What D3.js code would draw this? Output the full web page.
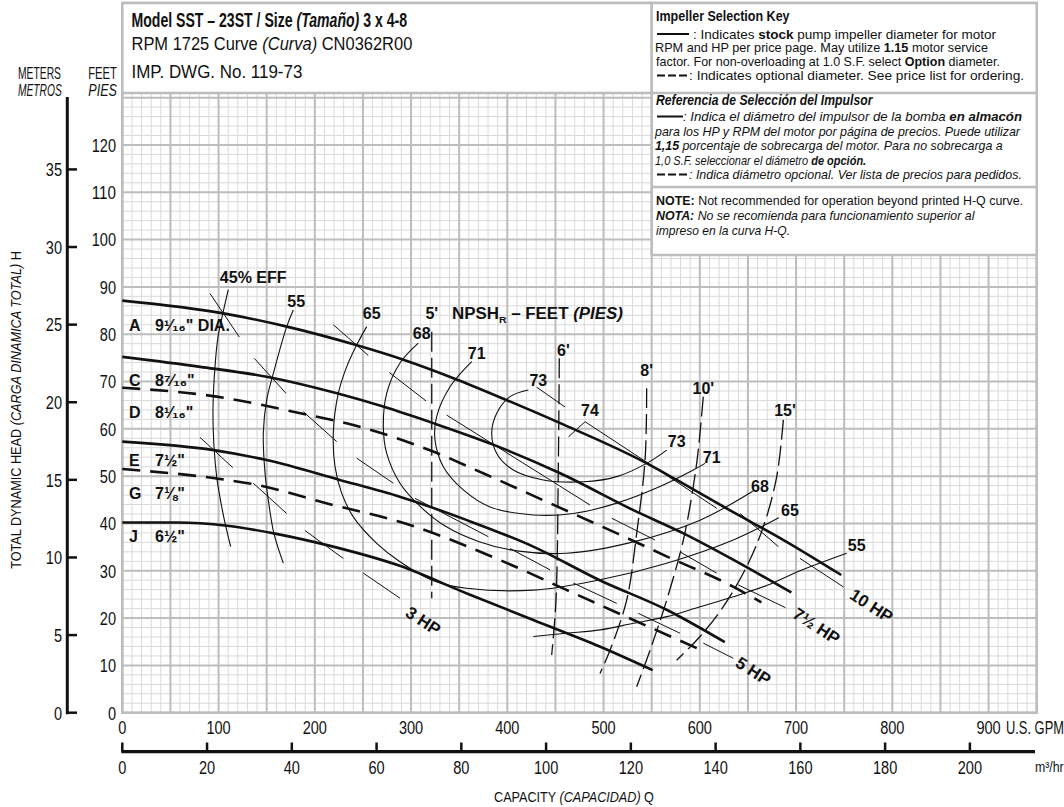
<!DOCTYPE html>
<html><head><meta charset="utf-8">
<script src="https://cdn.jsdelivr.net/npm/d3@7"></script>
<style>
body{margin:0;background:#fff}
text{font-family:'Liberation Sans Narrow','Arial Narrow','Liberation Sans',Arial,sans-serif;white-space:pre;fill:#111}
</style></head>
<body><svg id="c" width="1064" height="807"></svg>
<script>
// ---------------- DATA ----------------
const gpmTicks = [0,100,200,300,400,500,600,700,800,900];
const m3Ticks = [0,20,40,60,80,100,120,140,160,180,200];
const feetTicks = [0,10,20,30,40,50,60,70,80,90,100,110,120];
const meterTicks = [0,5,10,15,20,25,30,35];

// Impeller H-Q curves [GPM, feet]
const impA = [[0,87.1],[105,84.4],[171,81.6],[243,77.7],[292,74.6],[344,70.7],[399,66.1],[455,61.2],[545,52.7],[576,49.2],[631,42.8],[687,36.5],[747,29.1]];
const impC = [[0,75.2],[81,73.1],[150,71.0],[223,67.5],[271,64.7],[323,61.2],[386,56.6],[455,50.6],[531,42.8],[583,37.9],[635,32.3],[695,25.4]];
const impD = [[0,68.7],[98,66.8],[185,63.3],[240,60.8],[323,55.2],[375,50.6],[444,44.3],[514,37.9],[566,33.0],[635,26.6],[664,23.3]];
const impE = [[0,57.3],[95,55.5],[150,53.4],[226,49.2],[289,45.6],[358,40.7],[427,35.1],[496,28.0],[566,21.7],[626,14.9]];
const impG = [[0,51.5],[98,49.5],[136,48.3],[219,43.9],[289,40.3],[392,32.3],[462,25.9],[531,19.6],[603,13.1]];
const impJ = [[0,40.2],[57,40.2],[109,39.5],[160,37.8],[219,35.1],[289,31.0],[358,25.2],[427,19.6],[496,14.0],[551,9.0]];
const impellerLetters = ['A','C','D','E','G','J'];
const impellerSizes = ['9¹⁄₁₆" DIA.','8⁷⁄₁₆"','8¹⁄₁₆"','7½"','7⅛"','6½"'];
const impellerLabelHeads = [81.9,70.3,63.6,53.4,46.4,37.2];
const impellerOptional = [false,false,true,false,true,false];

// Efficiency curves [GPM, feet]
const eff45 = [[110.1,89.4],[104.6,84.5],[99.4,79.4],[96.3,73.1],[94.2,64.0],[95.3,56.2],[98.1,49.8],[101.5,45.5],[106.7,40.1],[112.6,35.1]];
const eff55a = [[177.7,85.1],[170.8,81.6],[156.9,71.7],[150,66.1],[146.5,59.1],[148.3,50.6],[152,44.5],[157.5,37.9],[167.3,31.6]];
const eff55b = [[427.0,16.1],[461.7,16.8],[496.3,17.5],[531.0,18.9],[565.6,20.3],[600.2,22.4],[634.8,24.5],[669.5,26.9],[704.1,30.0],[752.6,33.7]];
const eff65 = [[253.9,81.6],[243.5,77.7],[233.1,73.1],[224.4,67.5],[219.2,59.1],[221.0,52.0],[227.9,46.4],[240.0,41.4],[264.3,35.8],[288.5,31.9],[323.1,27.9],[357.8,26.3],[427.0,25.9],[496.3,28.1],[565.6,31.6],[634.8,36.5],[682,41.2]];
const eff68 = [[307.5,78.1],[288.5,73.9],[274.7,67.5],[271.2,60.5],[274.7,54.8],[288.5,48.5],[310,43.5],[335,39.5],[370,36.2],[410,34.2],[461.7,33.7],[530.9,36.1],[600.2,40.7],[655,46.8]];
const eff71 = [[363.0,74.2],[340.5,68.9],[326.6,62.6],[324.9,57.6],[333.5,52.0],[354.3,47.1],[382.0,43.5],[427.0,41.8],[468.6,42.1],[513.7,44.3],[558.6,47.8],[593.2,51.3],[605.4,52.7]];
const eff73 = [[421.8,68.2],[402.8,66.8],[389.0,63.3],[383.8,59.1],[389.0,54.8],[406.2,51.3],[437.4,49.2],[479.0,48.8],[513.7,49.9],[544.8,52.7],[565.6,55.5]];
const effCurves = [eff45,eff55a,eff55b,eff65,eff68,eff71,eff73];
// efficiency labels: text, GPM, feet
const effLabels = [['45% EFF',136,92.1],['55',180.7,86.9],['65',259.1,84.4],['68',311.1,80.2],['71',368.2,76.0],['73',432.2,70.3],['74',485.9,64.0],['73',576,57.3],['71',612.4,54.1],['68',662.5,47.8],['65',693.7,42.8],['55',763,35.4]];
// short efficiency / leader strokes [GPM1, ft1, GPM2, ft2]
const effTicks = [[91.1,88.6,121.6,79.4],[137.1,74.9,170.1,67.5],[219.2,82.0,255.6,75.5],[277.4,71.9,315.5,65.9],[80.7,58.2,114.7,51.8],[188.1,63.6,222.8,57.3],[136.1,48.5,170.8,42.1],[243.5,53.8,281.6,48.5],[304.1,45.3,380.3,37.2],[189.8,38.5,229.6,32.6],[250.4,29.5,288.5,24.2],[337.0,62.9,485.9,43.9],[402.8,34.7,444.4,30.2],[468.6,27.4,513.7,23.1],[508.5,41.1,553.5,36.5],[579.4,34.0,617.6,29.5],[536.1,21.0,579.4,16.8],[603.6,14.7,634.8,11.5],[641.8,42.1,681.6,35.1],[640,27.0,689,22.2],[704.1,32.6,749.1,26.6],[480.8,61.5,617.6,43.2],[463.5,58.3,480.8,61.5],[430.5,68.8,460,64.6]];

// NPSHr curves [GPM, feet]
const npsh5 = [[321.5,80.5],[321.5,24.2]];
const npsh6 = [[454,74.9],[453,52.0],[450.6,23.8],[446.1,12.2]];
const npsh8 = [[544.8,68.6],[543.1,53.4],[534.4,37.9],[524.0,23.8],[506.7,13.2],[496.3,8.3]];
const npsh10 = [[603.6,66.8],[598.4,55.5],[593.2,47.8],[582.9,36.5],[565.6,23.8],[548.3,13.2],[534.4,5.5]];
const npsh15 = [[686.8,61.9],[679.9,49.9],[666.0,39.3],[648.7,30.9],[624.4,22.4],[600.2,16.1],[576.0,11.1]];
const npshCurves = [npsh5,npsh6,npsh8,npsh10,npsh15];
const npshLabels = [["5'",321.5,84.5],["6'",458.2,76.7],["8'",544.8,72.4],["10'",603.6,68.6],["15'",688.5,64.0]];
const npshTitlePos = [342.6,84.5];
// motor HP labels: text, GPM, feet
const hpLabels = [['3 HP',309.3,19.6],['5 HP',652.2,9.0],['7½ HP',717.9,18.5],['10 HP',775,22.8]];

// ---------------- SCALES ----------------
const svg = d3.select('#c');
svg.append('rect').attr('width',1064).attr('height',807).attr('fill','#fff');
const X0=122.3, X1=1036.7, Y0=712.7, Y1=3;
const x = d3.scaleLinear().domain([0,950]).range([X0,X1]);
const y = d3.scaleLinear().domain([0,150]).range([Y0,Y1]);
const yM = d3.scaleLinear().domain([0,150*0.3048]).range([Y0,Y1]);
const xM = d3.scaleLinear().domain([0,950/4.402868]).range([X0,X1]);

// text helper: parts -> tspans, optional fit width
function txt(parent, px, py, parts, o={}) {
  const size=o.size||13;
  const t = parent.append('text').attr('font-size',size)
    .attr('text-anchor',o.anchor||'start')
    .attr('font-weight',o.weight||'normal').attr('font-style',o.style||'normal');
  parts.forEach(p=>{
    const s = typeof p==='string'?{t:p}:p;
    const ts = t.append('tspan').text(s.t);
    if(s.b) ts.attr('font-weight','bold');
    if(s.i) ts.attr('font-style','italic');
    if(s.sub) ts.attr('font-size',size*0.62).attr('dy',size*0.25);
    if(s.unsub) ts.attr('dy',-size*0.25);
  });
  let sx=1;
  if(o.width){ const w=t.node().getBBox().width; if(w>0) sx=o.width/w; }
  else if(o.sx) sx=o.sx;
  t.attr('transform',`translate(${px},${py}) rotate(${o.rotate||0}) scale(${sx},1)`);
  return t;
}

// ---------------- GRID ----------------
const grid = svg.append('g');
const minorC='#d9d9d9', majorC='#bdbdbd';
d3.range(0,951,10).filter(v=>v%50!==0).forEach(v=>grid.append('line').attr('x1',x(v)).attr('x2',x(v)).attr('y1',y(0)).attr('y2',y(150)).attr('stroke',minorC).attr('stroke-width',1));
d3.range(0,151,2).filter(v=>v%10!==0).forEach(v=>grid.append('line').attr('y1',y(v)).attr('y2',y(v)).attr('x1',x(0)).attr('x2',x(950)).attr('stroke',minorC).attr('stroke-width',1));
d3.range(0,951,50).forEach(v=>grid.append('line').attr('x1',x(v)).attr('x2',x(v)).attr('y1',y(0)).attr('y2',y(150)).attr('stroke',majorC).attr('stroke-width',2));
d3.range(0,151,10).forEach(v=>grid.append('line').attr('y1',y(v)).attr('y2',y(v)).attr('x1',x(0)).attr('x2',x(950)).attr('stroke',majorC).attr('stroke-width',2));
grid.append('rect').attr('x',x(0)).attr('y',y(150)).attr('width',x(950)-x(0)).attr('height',y(0)-y(150)).attr('fill','none').attr('stroke',majorC).attr('stroke-width',2.5);

// ---------------- HEADER BOXES ----------------
const hb = svg.append('g');
hb.append('rect').attr('x',X0).attr('y',Y1).attr('width',651.7-X0).attr('height',93-Y1).attr('fill','#fff').attr('stroke',majorC).attr('stroke-width',2.5);
hb.append('rect').attr('x',651.7).attr('y',Y1).attr('width',X1-651.7).attr('height',255-Y1).attr('fill','#fff').attr('stroke',majorC).attr('stroke-width',2.5);
hb.append('line').attr('x1',651.7).attr('x2',X1).attr('y1',93).attr('y2',93).attr('stroke',majorC).attr('stroke-width',2.5);
hb.append('line').attr('x1',651.7).attr('x2',X1).attr('y1',187).attr('y2',187).attr('stroke',majorC).attr('stroke-width',2.5);

txt(hb,131.5,26.5,[{t:'Model SST – 23ST / Size ',b:1},{t:'(Tamaño)',b:1,i:1},{t:' 3 x 4-8',b:1}],{size:21,width:276});
txt(hb,131.5,50,['RPM 1725 Curve ',{t:'(Curva)',i:1},' CN0362R00'],{size:19,width:281});
txt(hb,131.5,77.5,['IMP. DWG. No. 119-73'],{size:19,width:171});

function keyLine(y0,x1,x2,dashed){
  hb.append('line').attr('x1',x1).attr('x2',x2).attr('y1',y0).attr('y2',y0).attr('stroke','#111').attr('stroke-width',2)
    .attr('stroke-dasharray',dashed?'8,3':null);
}
const KS=12.2;
txt(hb,656,20.5,[{t:'Impeller Selection Key',b:1}],{size:14,width:134});
keyLine(34,657,689,false);
txt(hb,693,38.5,[': Indicates ',{t:'stock',b:1},' pump impeller diameter for motor'],{size:KS,width:303});
txt(hb,655,52,['RPM and HP per price page. May utilize ',{t:'1.15',b:1},' motor service'],{size:KS,width:333});
txt(hb,656,66,['factor. For non-overloading at 1.0 S.F. select ',{t:'Option',b:1},' diameter.'],{size:KS,width:344});
keyLine(75.5,657,689,true);
txt(hb,689,80,[': Indicates optional diameter. See price list for ordering.'],{size:KS,width:335});
txt(hb,656,105,[{t:'Referencia de Selección del Impulsor',b:1,i:1}],{size:14,width:218});
keyLine(116.5,657,683,false);
txt(hb,683,121,[{t:': Indica el diámetro del impulsor de la bomba ',i:1},{t:'en almacón',b:1,i:1}],{size:KS,width:339});
txt(hb,655,135.5,[{t:'para los HP y RPM del motor por página de precios. Puede utilizar',i:1}],{size:KS,width:367});
txt(hb,655,150,[{t:'1,15',b:1,i:1},{t:' porcentaje de sobrecarga del motor. Para no sobrecarga a',i:1}],{size:KS,width:348});
txt(hb,655,164.5,[{t:'1,0 S.F. seleccionar el diámetro ',i:1},{t:'de opción.',b:1,i:1}],{size:KS,width:211});
keyLine(174.5,657,689,true);
txt(hb,689,179,[{t:': Indica diámetro opcional. Ver lista de precios para pedidos.',i:1}],{size:KS,width:333});
txt(hb,656,205,[{t:'NOTE:',b:1},' Not recommended for operation beyond printed H-Q curve.'],{size:KS,width:367});
txt(hb,656,220,[{t:'NOTA:',b:1,i:1},{t:' No se recomienda para funcionamiento superior al',i:1}],{size:KS,width:319});
txt(hb,656,235,[{t:'impreso en la curva H-Q.',i:1}],{size:KS,width:134});

// ---------------- AXES ----------------
const ax = svg.append('g');
const digitW = 8.1;
feetTicks.forEach(v=>txt(ax,116,y(v)+6.8,[String(v)],{size:19,anchor:'end',width:String(v).length*digitW}));
meterTicks.forEach(v=>txt(ax,62,yM(v)+6.8,[String(v)],{size:19,anchor:'end',width:String(v).length*digitW}));
gpmTicks.forEach(v=>txt(ax,x(v),734,[String(v)],{size:19,anchor:'middle',width:String(v).length*digitW}));
txt(ax,1006,734,['U.S. GPM'],{size:19,width:58});
m3Ticks.forEach(v=>txt(ax,xM(v),773.5,[String(v)],{size:19,anchor:'middle',width:String(v).length*digitW}));
txt(ax,1035,772,['m³/hr'],{size:14,width:29});
ax.append('line').attr('x1',67.3).attr('x2',67.3).attr('y1',97).attr('y2',yM(0)+1.5).attr('stroke','#111').attr('stroke-width',3);
meterTicks.forEach(v=>ax.append('line').attr('x1',66).attr('x2',77).attr('y1',yM(v)).attr('y2',yM(v)).attr('stroke','#111').attr('stroke-width',2.5));
ax.append('line').attr('x1',X0-1).attr('x2',1035).attr('y1',751.7).attr('y2',751.7).attr('stroke','#111').attr('stroke-width',3.2);
m3Ticks.forEach(v=>ax.append('line').attr('x1',xM(v)).attr('x2',xM(v)).attr('y1',751.7).attr('y2',742.5).attr('stroke','#111').attr('stroke-width',2.5));
txt(ax,117,78.5,['FEET'],{size:16,anchor:'end',width:29});
txt(ax,117,95.5,[{t:'PIES',i:1}],{size:16,anchor:'end',width:29});
txt(ax,18,78.5,['METERS'],{size:16,width:43});
txt(ax,18,95.5,[{t:'METROS',i:1}],{size:16,width:44});
txt(ax,20.5,410,['TOTAL DYNAMIC HEAD ',{t:'(CARGA DINAMICA TOTAL)',i:1},' H'],{size:15.5,anchor:'middle',rotate:-90,width:318});
txt(ax,574,802,['CAPACITY ',{t:'(CAPACIDAD)',i:1},' Q'],{size:15.5,anchor:'middle',width:160});
// ---------------- CURVES ----------------
const plot = svg.append('g');
const lineSmooth = d3.line().x(d=>x(d[0])).y(d=>y(d[1])).curve(d3.curveCatmullRom.alpha(0.5));
effCurves.forEach(c=>plot.append('path').attr('d',lineSmooth(c)).attr('fill','none').attr('stroke','#111').attr('stroke-width',1.1));
effTicks.forEach(s=>plot.append('line').attr('x1',x(s[0])).attr('y1',y(s[1])).attr('x2',x(s[2])).attr('y2',y(s[3])).attr('stroke','#111').attr('stroke-width',1));
npshCurves.forEach(c=>plot.append('path').attr('d',lineSmooth(c)).attr('fill','none').attr('stroke','#111').attr('stroke-width',1.3).attr('stroke-dasharray','20,6'));
[impA,impC,impD,impE,impG,impJ].forEach((c,i)=>{
  plot.append('path').attr('d',d3.line().x(d=>x(d[0])).y(d=>y(d[1])).curve(d3.curveMonotoneX)(c))
    .attr('fill','none').attr('stroke','#111').attr('stroke-width',2.6)
    .attr('stroke-dasharray',impellerOptional[i]?'18,10':null);
});
const lab = svg.append('g');
impellerLetters.forEach((L,i)=>{
  txt(lab,x(7),y(impellerLabelHeads[i])+5.8,[L],{size:16,weight:'bold'});
  txt(lab,x(34),y(impellerLabelHeads[i])+5.8,[impellerSizes[i]],{size:16,weight:'bold'});
});
effLabels.forEach(d=>txt(lab,x(d[1]),y(d[2])+5.8,[d[0]],{size:16,weight:'bold',anchor:'middle'}));
npshLabels.forEach(d=>txt(lab,x(d[1]),y(d[2])+5.8,[d[0]],{size:16,weight:'bold',anchor:'middle'}));
txt(lab,x(npshTitlePos[0]),y(npshTitlePos[1])+5.8,['NPSH',{t:'R',sub:1},{t:' – FEET ',unsub:1},{t:'(PIES)',i:1}],{size:16,weight:'bold',width:171});
hpLabels.forEach(d=>txt(lab,x(d[1]),y(d[2])+5.8,[d[0]],{size:17,weight:'bold',anchor:'middle',rotate:33}));
</script></body></html>
